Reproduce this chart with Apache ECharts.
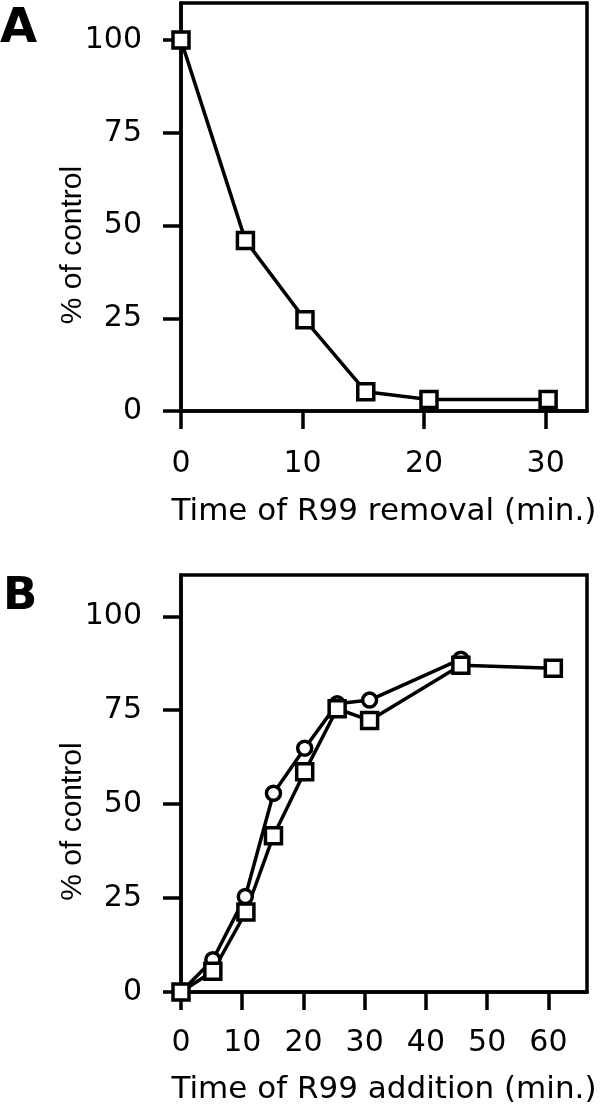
<!DOCTYPE html>
<html>
<head>
<meta charset="utf-8">
<script src="https://cdn.jsdelivr.net/npm/echarts@6/dist/echarts.min.js"></script>
<style>
html,body{margin:0;padding:0;background:#fff;}
#chart{width:600px;height:1112px;}
</style>
</head>
<body>
<div id="chart"></div>
<script>
// Panel A: R99 removal
var timeA = [0, 5.3, 10.2, 15.2, 20.4, 30.2];
var valA  = [100, 46, 24.6, 5.2, 3.1, 3.1];
// Panel B: R99 addition
var timeBsq = [0, 5.2, 10.6, 15.1, 20.2, 25.5, 30.8, 45.7, 60.8];
var valBsq  = [0, 5.5, 21.3, 41.6, 58.6, 75.4, 72.3, 87, 86.2];
var timeBci = [0, 5.2, 10.5, 15.1, 20.2, 25.5, 30.8, 45.7];
var valBci  = [0, 8.6, 25.4, 52.9, 64.9, 76.7, 77.7, 88.6];
// Tick labels
var yTicks  = [0, 25, 50, 75, 100];
var xTicksA = [0, 10, 20, 30];
var xTicksB = [0, 10, 20, 30, 40, 50, 60];
var panelLetters = ['A', 'B'];
var xTitles = ['Time of R99 removal (min.)', 'Time of R99 addition (min.)'];
var yTitle = '% of control';

var FONT = 'DejaVu Sans';
var FONT2 = 'Liberation Sans';
var LW = 3.5;
function pairs(xs, ys){ return xs.map(function(x,i){ return [x, ys[i]]; }); }

var axisLineStyle = {show:true, lineStyle:{color:'#000', width:LW}};
function xAxisCfg(idx, max, ticks, margin, gap){
  return {
    type:'value', gridIndex:idx, min:0, max:max,
    axisLine:axisLineStyle,
    axisTick:{show:true, inside:false, length:18, lineStyle:{color:'#000', width:LW}, customValues:ticks},
    axisLabel:{show:true, color:'#000', fontSize:30, fontFamily:FONT, margin:margin, customValues:ticks},
    splitLine:{show:false},
    name:xTitles[idx], nameLocation:'middle', nameGap:gap, nameMoveOverlap:false,
    nameTextStyle:{color:'#000', fontSize:31, fontFamily:FONT, verticalAlign:'top'}
  };
}
function yAxisCfg(idx, max){
  return {
    type:'value', gridIndex:idx, min:0, max:max,
    axisLine:axisLineStyle,
    axisTick:{show:true, inside:false, length:18, lineStyle:{color:'#000', width:LW}, customValues:yTicks},
    axisLabel:{show:true, color:'#000', fontSize:30, fontFamily:FONT, margin:39, customValues:yTicks},
    splitLine:{show:false},
    name:yTitle, nameLocation:'middle', nameGap:93, nameMoveOverlap:false,
    nameTextStyle:{color:'#000', fontSize:30, fontFamily:FONT2, padding:[0,76,0,0]}
  };
}
var sqStyle = {color:'#fff', borderColor:'#000', borderWidth:LW};
var lineSt = {color:'#000', width:LW};

var chart = echarts.init(document.getElementById('chart'), null, {renderer:'canvas'});
chart.setOption({
  animation:false,
  backgroundColor:'#fff',
  title:[
    {text:panelLetters[0], left:0, top:6, padding:0, textStyle:{fontSize:48, fontWeight:'bold', color:'#000', fontFamily:FONT}},
    {text:panelLetters[1], left:3, top:575, padding:0, textStyle:{fontSize:45, fontWeight:'bold', color:'#000', fontFamily:FONT}}
  ],
  grid:[
    {left:181, top:3, width:406, height:408, show:true, borderColor:'#000', borderWidth:LW, backgroundColor:'transparent'},
    {left:181, top:575, width:406, height:417, show:true, borderColor:'#000', borderWidth:LW, backgroundColor:'transparent'}
  ],
  xAxis:[ xAxisCfg(0, 33.4, xTicksA, 38, 85), xAxisCfg(1, 66.3, xTicksB, 36, 82) ],
  yAxis:[ yAxisCfg(0, 110), yAxisCfg(1, 111) ],
  series:[
    {type:'line', xAxisIndex:0, yAxisIndex:0, data:pairs(timeA, valA), symbol:'rect', symbolSize:16,
     itemStyle:sqStyle, lineStyle:lineSt, emphasis:{disabled:true}},
    {type:'line', xAxisIndex:1, yAxisIndex:1, data:pairs(timeBci, valBci), symbol:'circle', symbolSize:14,
     itemStyle:sqStyle, lineStyle:lineSt, emphasis:{disabled:true}},
    {type:'line', xAxisIndex:1, yAxisIndex:1, data:pairs(timeBsq, valBsq), symbol:'rect', symbolSize:16,
     itemStyle:sqStyle, lineStyle:lineSt, emphasis:{disabled:true}}
  ]
});
</script>
</body>
</html>
